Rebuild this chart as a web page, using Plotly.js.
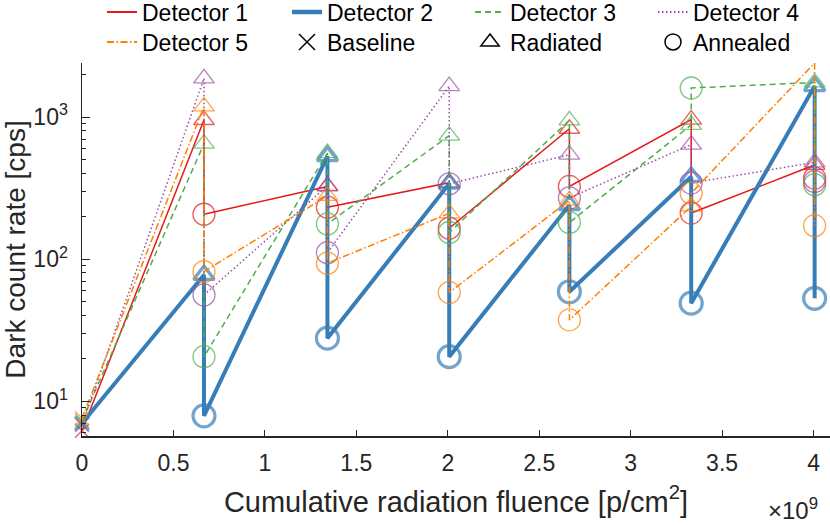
<!DOCTYPE html>
<html>
<head>
<meta charset="utf-8">
<script src="https://cdn.plot.ly/plotly-3.0.1.min.js"></script>
<style>
  html, body { margin: 0; padding: 0; background: #fff; }
  #chart { width: 830px; height: 525px; }
</style>
</head>
<body>
<div id="chart"></div>
<script>
// fluence of each irradiation step, in units of 1e9 p/cm^2
const fluence = [0.667, 1.342, 2.008, 2.665, 3.331, 4.006]

const detectorNames = ['Detector 1', 'Detector 2', 'Detector 3', 'Detector 4', 'Detector 5']

// dark count rate [cps] before any irradiation
const baseline = [6.2, 7.0, 7.3, 6.8, 7.6]

// dark count rate right after each irradiation step
const radiated1 = [953, 325, 345, 827, 960, 460]
const radiated2 = [77.5, 530, 340, 240, 380, 1650]
const radiated3 = [649, 558, 740, 946, 880, 1750]
const radiated4 = [1870, 328, 1650, 543, 640, 480]
const radiated5 = [1187, 279, 210, 259, 235, 2400]

// dark count rate after annealing
const annealed1 = [207, 232, 165, 325, 211, 372]
const annealed2 = [7.9, 27.8, 20.6, 59, 49, 53]
const annealed3 = [20.6, 177, 154, 181, 1600, 334]
const annealed4 = [56, 111, 339, 270, 343, 352]
const annealed5 = [81.8, 93.7, 58.2, 37.4, 291, 172]

const yTickVals = [10, 100, 1000]
const yTickText = ['10<sup>1</sup>', '10<sup>2</sup>', '10<sup>3</sup>']
const xTickVals = [0, 0.5, 1, 1.5, 2, 2.5, 3, 3.5, 4]

const radiated = [radiated1, radiated2, radiated3, radiated4, radiated5]
const annealed = [annealed1, annealed2, annealed3, annealed4, annealed5]

const colors = ['#e41a1c', '#377eb8', '#4daf4a', '#984ea3', '#ff7f00']
const dashes = ['solid', 'solid', '6px,4px', '1.5px,2.5px', '7px,2.5px,1.5px,2.5px']
const widths = [1.5, 4, 1.5, 1.5, 1.5]
const markerWidths = [1.3, 3.2, 1.3, 1.3, 1.3]

const FONT = 'Liberation Sans, Arial, Helvetica, sans-serif'
const INK = '#262626'

// build the path baseline -> radiated -> annealed -> radiated -> ...
const buildTrace = (i) => {
    let x = [0]
    let y = [baseline[i]]
    let symbols = ['x-thin-open']
    let sizes = [14]
    fluence.forEach((f, k) => {
        x.push(f, f)
        y.push(radiated[i][k], annealed[i][k])
        symbols.push('triangle-up-open', 'circle-open')
        sizes.push(18, 22)
    })
    return {
        x: x,
        y: y,
        type: 'scatter',
        mode: 'lines+markers',
        name: detectorNames[i],
        showlegend: false,
        cliponaxis: false,
        line: { color: colors[i], width: widths[i], dash: dashes[i] },
        marker: {
            symbol: symbols,
            size: sizes,
            color: colors[i],
            line: { color: colors[i], width: markerWidths[i] }
        },
        hoverinfo: 'skip'
    }
}

let data = detectorNames.map((n, i) => buildTrace(i))

// legend entries, two rows of four, one small legend each
const legendOrder = ['Detector 1', 'Detector 2', 'Detector 3', 'Detector 4',
                     'Detector 5', 'Baseline', 'Radiated', 'Annealed']
const markerLegend = { 'Baseline': 'x-thin-open', 'Radiated': 'triangle-up-open', 'Annealed': 'circle-open' }
const legendColX = [102, 287, 470, 653]
const legendRowY = [12, 42]

let layoutLegends = {}
legendOrder.forEach((n, j) => {
    const key = j === 0 ? 'legend' : 'legend' + (j + 1)
    const i = detectorNames.indexOf(n)
    let trace = { x: [null], y: [null], type: 'scatter', name: n, legend: key }
    if (i >= 0) {
        trace.mode = 'lines'
        trace.line = { color: colors[i], width: i === 1 ? 4.5 : 2, dash: dashes[i] }
    } else {
        trace.mode = 'markers'
        trace.marker = { symbol: markerLegend[n], size: 16, color: '#000', line: { color: '#000', width: 1.5 } }
    }
    data.push(trace)
    layoutLegends[key] = {
        orientation: 'v',
        xanchor: 'left',
        yanchor: 'middle',
        x: (legendColX[j % 4] - 82) / 748,
        y: (436 - legendRowY[Math.floor(j / 4)]) / 373,
        bgcolor: 'rgba(0,0,0,0)',
        font: { family: FONT, size: 23, color: '#000' }
    }
})

let minorVals = []
for (let e = 0; e < 4; e++) {
    for (let d = 2; d <= 9; d++) minorVals.push(d * Math.pow(10, e))
}

const layout = Object.assign({
    width: 830,
    height: 525,
    margin: { l: 82, r: 0, t: 63, b: 89, autoexpand: false },
    paper_bgcolor: '#fff',
    plot_bgcolor: '#fff',
    font: { family: FONT, size: 23, color: INK },
    xaxis: {
        range: [0, 4.09],
        tickmode: 'array',
        tickvals: xTickVals,
        ticks: 'inside',
        ticklen: 6,
        tickwidth: 1,
        tickcolor: INK,
        showline: true,
        linecolor: INK,
        linewidth: 1.5,
        showgrid: false,
        zeroline: false,
        automargin: false,
        ticklabelstandoff: 6,
        tickfont: { family: FONT, size: 23, color: INK },
        title: {
            text: 'Cumulative radiation fluence [p/cm<sup>2</sup>]',
            font: { family: FONT, size: 29, color: INK },
            standoff: 16
        }
    },
    yaxis: {
        type: 'log',
        range: [0.756, 3.38],
        tickmode: 'array',
        tickvals: yTickVals,
        ticktext: yTickText,
        ticks: 'inside',
        ticklen: 8,
        tickwidth: 1,
        tickcolor: INK,
        minor: { tickmode: 'array', tickvals: minorVals, ticks: 'inside', ticklen: 4, tickcolor: INK, tickwidth: 1 },
        showline: true,
        linecolor: INK,
        linewidth: 1.5,
        showgrid: false,
        zeroline: false,
        automargin: false,
        ticklabelstandoff: 8,
        tickfont: { family: FONT, size: 23, color: INK },
        title: {
            text: 'Dark count rate [cps]',
            font: { family: FONT, size: 28, color: INK },
            standoff: 10
        }
    },
    annotations: [{
        xref: 'paper', yref: 'paper',
        x: 0.95, y: -0.196,
        xanchor: 'center', yanchor: 'middle',
        text: '\u00d710<sup>9</sup>',
        showarrow: false,
        font: { family: FONT, size: 24, color: INK }
    }],
    showlegend: true
}, layoutLegends)

Plotly.newPlot('chart', data, layout, { staticPlot: true, displayModeBar: false })
</script>
</body>
</html>
